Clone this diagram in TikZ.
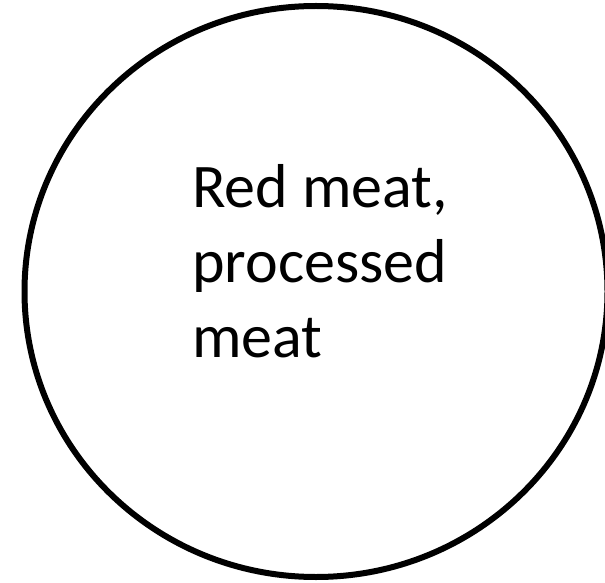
\documentclass[tikz,border=0pt]{standalone}
\usepackage{fontspec}
\setmainfont{Carlito}
\usetikzlibrary{shapes.geometric}
\begin{document}
\begin{tikzpicture}[x=1pt,y=1pt,
  ring/.style={draw=black, line width=6pt, ellipse, inner sep=0pt, minimum width=583pt, minimum height=571pt},
  label/.style={inner sep=0pt, align=left, font=\fontsize{62}{75}\selectfont}]
\useasboundingbox (0,0) rectangle (605,582);
\node[ring] (c) at (316,290.5) {};
\node[label, anchor=base west] (t) at (192,225) {Red meat,\\processed\\meat};
\end{tikzpicture}
\end{document}
